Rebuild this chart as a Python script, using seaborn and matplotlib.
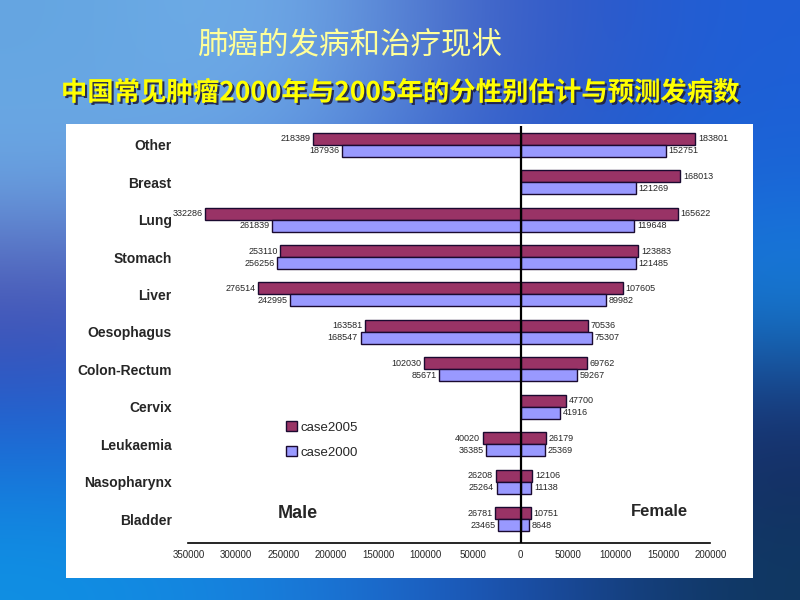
import numpy as np
import pandas as pd
import matplotlib
matplotlib.use("Agg")
import matplotlib.pyplot as plt
import matplotlib.patheffects as pe
from matplotlib.patches import Rectangle, Patch
import seaborn as sns

# ---------------- data ----------------
categories = ["Other", "Breast", "Lung", "Stomach", "Liver", "Oesophagus",
              "Colon-Rectum", "Cervix", "Leukaemia", "Nasopharynx", "Bladder"]
male_2005 = [218389, None, 332286, 253110, 276514, 163581, 102030, None, 40020, 26208, 26781]
male_2000 = [187936, None, 261839, 256256, 242995, 168547, 85671, None, 36385, 25264, 23465]
female_2005 = [183801, 168013, 165622, 123883, 107605, 70536, 69762, 47700, 26179, 12106, 10751]
female_2000 = [152751, 121269, 119648, 121485, 89982, 75307, 59267, 41916, 25369, 11138, 8648]
series = ["case2005", "case2000"]
xticks = [-350000, -300000, -250000, -200000, -150000, -100000, -50000,
          0, 50000, 100000, 150000, 200000]

title1 = "肺癌的发病和治疗现状"
title2 = "中国常见肿瘤2000年与2005年的分性别估计与预测发病数"

c2005 = "#993366"
c2000 = "#9999FF"

sns.set_style("white")
plt.rcParams["font.family"] = ["Liberation Sans", "DejaVu Sans"]
cjk = ["Noto Sans CJK SC", "DejaVu Sans"]
narrow = ["Liberation Sans Narrow", "Liberation Sans", "DejaVu Sans"]

# long tables
def long(vals05, vals00, sign):
    rows = []
    for cat, a, b in zip(categories, vals05, vals00):
        if a is not None:
            rows.append((cat, "case2005", sign * a))
        if b is not None:
            rows.append((cat, "case2000", sign * b))
    return pd.DataFrame(rows, columns=["cat", "year", "value"])

dm = long(male_2005, male_2000, -1)
df = long(female_2005, female_2000, 1)

fig = plt.figure(figsize=(8, 6), dpi=100)

# background gradient (decorative)
bg = fig.add_axes([0, 0, 1, 1], zorder=0)
bg.set_axis_off()
anchors = np.array([
    [(100, 165, 225), (118, 178, 235), (60, 85, 190), (30, 95, 215)],
    [(110, 170, 230), (95, 150, 225), (45, 85, 200), (25, 100, 215)],
    [(75, 75, 170), (60, 100, 205), (40, 80, 200), (20, 135, 220)],
    [(30, 95, 210), (35, 110, 215), (35, 75, 185), (25, 40, 100)],
    [(15, 145, 228), (25, 125, 220), (30, 80, 180), (15, 55, 95)],
], dtype=float) / 255.0
bg.imshow(anchors, extent=[0, 1, 0, 1], aspect="auto", interpolation="bicubic",
          transform=bg.transAxes)
bg.set_xlim(0, 1)
bg.set_ylim(0, 1)

# white panel
fig.patches.append(Rectangle((66 / 800, 1 - 578 / 600), (753 - 66) / 800, (578 - 124) / 600,
                             transform=fig.transFigure, facecolor="white",
                             edgecolor="none", zorder=1))

ax = fig.add_axes([0.2356, 0.095, 0.6525, 0.695], zorder=2)
ax.set_facecolor("none")

pal = {"case2005": c2005, "case2000": c2000}
for d in (dm, df):
    sns.barplot(data=d, y="cat", x="value", hue="year", order=categories,
                hue_order=series, palette=pal, orient="h", width=0.64,
                edgecolor="#1a0a30", linewidth=1.0, legend=False, ax=ax,
                saturation=1)

ax.set_xlim(-350000, 200000)
ax.set_ylim(10.64, -0.5)
ax.axvline(0, color="black", lw=1.6, zorder=5)

# value labels
off = 0.16
for i, cat in enumerate(categories):
    for v, dy in ((male_2005[i], -off), (male_2000[i], off)):
        if v is not None:
            ax.annotate(str(v), xy=(-v, i + dy), xytext=(-2, 0), textcoords="offset points",
                        ha="right", va="center", fontsize=6.5, family=narrow)
    for v, dy in ((female_2005[i], -off), (female_2000[i], off)):
        ax.annotate(str(v), xy=(v, i + dy), xytext=(2, 0), textcoords="offset points",
                    ha="left", va="center", fontsize=6.5, family=narrow)

ax.set_xticks(xticks)
ax.set_xticklabels([str(abs(t)) for t in xticks], fontsize=7, family=narrow)
ax.tick_params(axis="x", direction="in", length=5, width=1, pad=5, color="black")
ax.set_yticks(range(len(categories)))
ax.set_yticklabels(categories, fontsize=10, fontweight="bold")
ax.tick_params(axis="y", length=0, pad=12)
ax.set_xlabel("")
ax.set_ylabel("")
for s in ("top", "right", "left"):
    ax.spines[s].set_visible(False)
ax.spines["bottom"].set_color("black")
ax.spines["bottom"].set_linewidth(1.2)

ax.text(-234700, 9.84, "Male", fontsize=13, fontweight="bold", ha="center", va="center")
ax.text(146300, 9.79, "Female", fontsize=12, fontweight="bold", ha="center", va="center")

handles = [Patch(facecolor=pal[s], edgecolor="#1a0a30", label=s) for s in series]
fig.legend(handles=handles, loc="upper left", bbox_to_anchor=(0.343, 0.318),
           frameon=False, fontsize=9.5, handlelength=0.8, handleheight=0.8,
           handletextpad=0.3, labelspacing=0.95)

fig.text(0.4375, 0.925, title1, color="#FFFF99", fontsize=22, family=cjk,
         ha="center", va="center", zorder=3)
fig.text(0.5, 0.845, title2, color="#FFFF00", fontsize=19, fontweight="bold",
         family=cjk, ha="center", va="center", zorder=3,
         path_effects=[pe.withSimplePatchShadow(offset=(1.5, -1.5), shadow_rgbFace="#202040", alpha=0.9)])

fig.savefig("out.png", dpi=100)
